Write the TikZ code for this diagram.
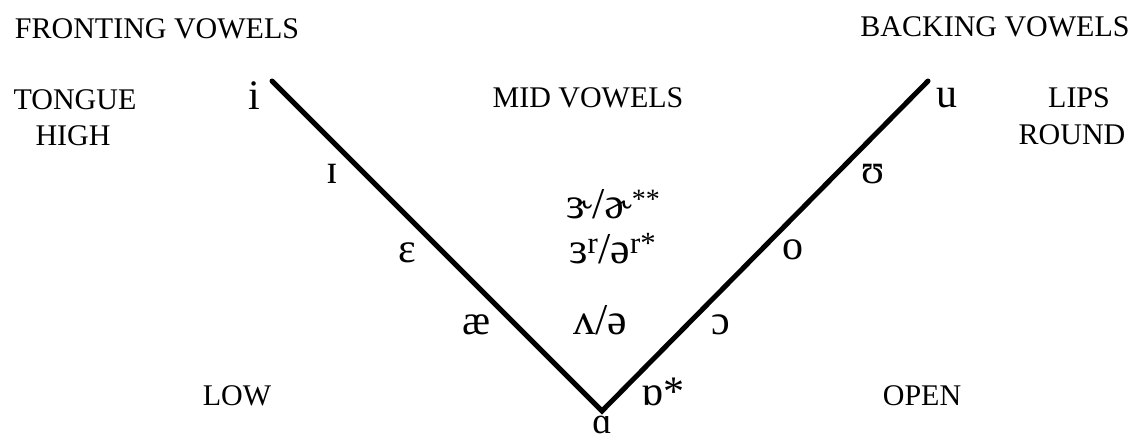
\documentclass[tikz,border=0pt]{standalone}
\usepackage{fontspec}
\setmainfont{Liberation Serif}
\begin{document}
\begin{tikzpicture}[x=1pt,y=-1pt,
  lbl/.style={font=\fontsize{30}{34}\selectfont, inner sep=0pt, anchor=base},
  vw/.style={font=\fontsize{42}{46}\selectfont, inner sep=0pt, anchor=base},
  midv/.style={font=\fontsize{44}{48}\selectfont, inner sep=0pt, anchor=base},
  arm/.style={line width=5pt, line join=miter, line cap=round}]
\useasboundingbox (0,0) rectangle (1135,441);
% headings
\node[lbl] (front) at (157,39) {FRONTING VOWELS};
\node[lbl] (back) at (995,37) {BACKING VOWELS};
\node[lbl] (tongue) at (75,110) {TONGUE};
\node[lbl] (high) at (73,146) {HIGH};
\node[lbl] (mid) at (588,108) {MID VOWELS};
\node[lbl] (lips) at (1079,108) {LIPS};
\node[lbl] (round) at (1072,145) {ROUND};
\node[lbl] (low) at (237,405) {LOW};
\node[lbl] (open) at (922,405) {OPEN};
% chart
\coordinate (ipt) at (272,81);
\coordinate (apt) at (602,411);
\coordinate (upt) at (928,81);
\draw[arm] (ipt) -- (apt) -- (upt);
% vowels
\node[vw] (i) at (254,110) {i};
\node[vw] (I) at (332,183) {ɪ};
\node[vw] (e) at (407,262) {ɛ};
\node[vw] (ae) at (477,334) {æ};
\node[vw, font=\fontsize{37}{40}\selectfont] (a) at (602,433) {ɑ};
\node[vw] (u) at (947,108) {u};
\node[vw] (U) at (873,183) {ʊ};
\node[vw] (o) at (793,259) {o};
\node[vw] (oo) at (721,334) {ɔ};
\node[vw, anchor=base west] (ob) at (641,405) {ɒ*};
\node[midv] (wedge) at (600,334) {ʌ/ə};
\node[midv, anchor=base west] (er) at (566,218) {ɝ/ɚ\raisebox{10pt}{\fontsize{28}{28}\selectfont **}};
\node[midv, anchor=base west] (err) at (569,263) {ɜ\textsuperscript{r}/ə\textsuperscript{r*}};
\end{tikzpicture}
\end{document}
